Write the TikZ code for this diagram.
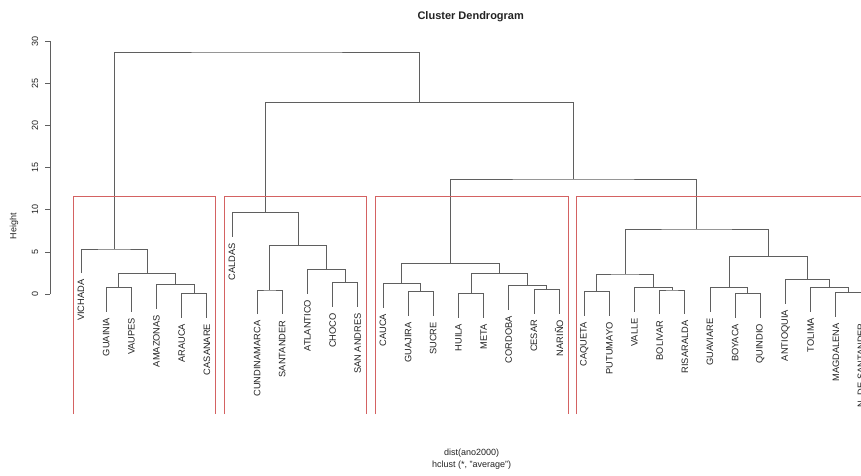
\documentclass[tikz,border=0pt]{standalone}
\usepackage{fontspec}
\setmainfont{Liberation Sans}
\usetikzlibrary{calc}
\definecolor{dendcol}{RGB}{95,95,95}
\definecolor{boxred}{RGB}{212,98,98}
\definecolor{txtcol}{RGB}{35,35,35}
\tikzset{
  dendline/.style={draw=dendcol, line width=0.75pt},
  rbox/.style={draw=boxred, line width=0.8pt},
  leaflab/.style={rotate=90, anchor=east, inner sep=0pt, text=txtcol, font=\fontsize{9.3}{11}\selectfont},
  axlab/.style={rotate=90, inner sep=0pt, text=txtcol, font=\fontsize{9}{11}\selectfont},
  plaintxt/.style={inner sep=0pt, text=txtcol, font=\fontsize{9}{11}\selectfont},
}
% leaf: name, index, parent merge y, label
\newcommand\dleaf[4]{%
  \coordinate (#1) at ({81+25.16*#2},{#3+24.2});
  \node[leaflab] (#1lab) at ({81+25.16*#2},{#3+30.4}) {#4};
}
% merge: name, child a, child b, y
\newcommand\dmerge[4]{%
  \path ($(#2)!0.5!(#3)$) coordinate (#1mx);
  \coordinate (#1) at (#1mx |- 0,#4);
  \draw[dendline] (#2) |- (#1) -| (#3);
}
\begin{document}
\begin{tikzpicture}[x=1pt,y=-1pt]
\useasboundingbox (0,0) rectangle (861,475);
\clip (0,0) rectangle (861,475);
\fill[white] (0,0) rectangle (861,475);

% title and captions
\node[inner sep=0pt, text=txtcol, font=\fontsize{11}{13}\selectfont\bfseries] (title) at (470.7,16.7) {Cluster Dendrogram};
\node[plaintxt] (xlab1) at (471.7,453.3) {dist(ano2000)};
\node[plaintxt] (xlab2) at (471.7,465.3) {hclust (*, "average")};
\node[axlab] (ylab) at (14,226) {Height};

% y axis
\coordinate (ax0) at (50,294);
\coordinate (ax30) at (50,41.4);
\draw[dendline] (ax0) -- (ax30);
\foreach \h in {0,5,...,30}{
  \coordinate (tk\h) at (50,{294-8.42*\h});
  \coordinate (tke\h) at (45,{294-8.42*\h});
  \draw[dendline] (tk\h) -- (tke\h);
  \node[axlab] (tl\h) at (35,{294-8.42*\h}) {\h};
}

% leaves
\dleaf{L0}{0}{249}{VICHADA}
\dleaf{L1}{1}{287.3}{GUAINIA}
\dleaf{L2}{2}{287.3}{VAUPES}
\dleaf{L3}{3}{284.3}{AMAZONAS}
\dleaf{L4}{4}{293.3}{ARAUCA}
\dleaf{L5}{5}{293.3}{CASANARE}
\dleaf{L6}{6}{212.7}{CALDAS}
\dleaf{L7}{7}{290}{CUNDINAMARCA}
\dleaf{L8}{8}{290}{SANTANDER}
\dleaf{L9}{9}{269.3}{ATLANTICO}
\dleaf{L10}{10}{282.7}{CHOCO}
\dleaf{L11}{11}{282.7}{SAN ANDRES}
\dleaf{L12}{12}{283.3}{CAUCA}
\dleaf{L13}{13}{291.7}{GUAJIRA}
\dleaf{L14}{14}{291.7}{SUCRE}
\dleaf{L15}{15}{293.3}{HUILA}
\dleaf{L16}{16}{293.3}{META}
\dleaf{L17}{17}{285.7}{CORDOBA}
\dleaf{L18}{18}{289.3}{CESAR}
\dleaf{L19}{19}{289.3}{NARIÑO}
\dleaf{L20}{20}{291.7}{CAQUETA}
\dleaf{L21}{21}{291.7}{PUTUMAYO}
\dleaf{L22}{22}{287.7}{VALLE}
\dleaf{L23}{23}{290}{BOLIVAR}
\dleaf{L24}{24}{290}{RISARALDA}
\dleaf{L25}{25}{287.7}{GUAVIARE}
\dleaf{L26}{26}{293.3}{BOYACA}
\dleaf{L27}{27}{293.3}{QUINDIO}
\dleaf{L28}{28}{279.3}{ANTIOQUIA}
\dleaf{L29}{29}{287.3}{TOLIMA}
\dleaf{L30}{30}{292.7}{MAGDALENA}
\dleaf{L31}{31}{292.7}{N. DE SANTANDER}

% cluster 1
\dmerge{gv}{L1}{L2}{287.3}
\dmerge{ac}{L4}{L5}{293.3}
\dmerge{aac}{L3}{ac}{284.3}
\dmerge{gvaac}{gv}{aac}{273.3}
\dmerge{cla}{L0}{gvaac}{249}
% cluster 2
\dmerge{cs}{L7}{L8}{290}
\dmerge{chsa}{L10}{L11}{282.7}
\dmerge{atl}{L9}{chsa}{269.3}
\dmerge{csat}{cs}{atl}{245.5}
\dmerge{clb}{L6}{csat}{212.7}
% cluster 3
\dmerge{gs}{L13}{L14}{291.7}
\dmerge{cgs}{L12}{gs}{283.3}
\dmerge{hm}{L15}{L16}{293.3}
\dmerge{cn}{L18}{L19}{289.3}
\dmerge{co}{L17}{cn}{285.7}
\dmerge{hmco}{hm}{co}{273.3}
\dmerge{clc}{cgs}{hmco}{263.3}
% cluster 4
\dmerge{cp}{L20}{L21}{291.7}
\dmerge{br}{L23}{L24}{290}
\dmerge{vbr}{L22}{br}{287.7}
\dmerge{cpvbr}{cp}{vbr}{274}
\dmerge{bq}{L26}{L27}{293.3}
\dmerge{gbq}{L25}{bq}{287.7}
\dmerge{mn}{L30}{L31}{292.7}
\dmerge{tmn}{L29}{mn}{287.3}
\dmerge{atmn}{L28}{tmn}{279.3}
\dmerge{gbqatmn}{gbq}{atmn}{256.7}
\dmerge{cld}{cpvbr}{gbqatmn}{229}
% upper merges
\dmerge{ccd}{clc}{cld}{179}
\dmerge{cbcd}{clb}{ccd}{102.7}
\dmerge{topm}{cla}{cbcd}{52}

% cluster boxes
\draw[rbox] (73.2,414) -- (73.2,196.7) -- (215.6,196.7) -- (215.6,414);
\draw[rbox] (224.1,414) -- (224.1,196.7) -- (366.6,196.7) -- (366.6,414);
\draw[rbox] (375.0,414) -- (375.0,196.7) -- (567.9,196.7) -- (567.9,414);
\draw[rbox] (576.3,414) -- (576.3,196.7) -- (869.8,196.7) -- (869.8,414);
\end{tikzpicture}
\end{document}
